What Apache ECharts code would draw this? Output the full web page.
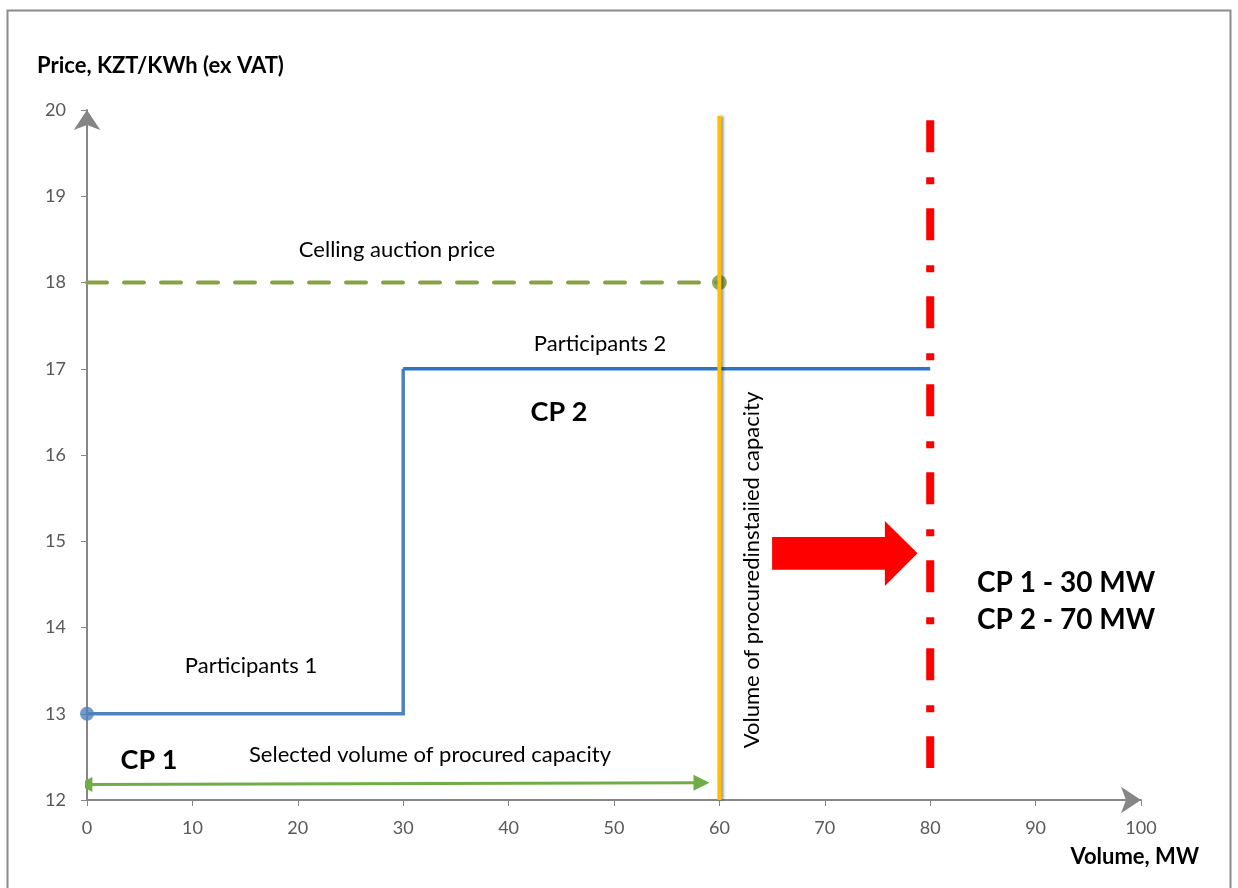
<!DOCTYPE html>
<html>
<head>
<meta charset="utf-8">
<script src="https://cdn.jsdelivr.net/npm/echarts@6/dist/echarts.min.js"></script>
<style>
html,body{margin:0;padding:0;background:#fff;}
#chart{width:1238px;height:888px;}
</style>
</head>
<body>
<div id="chart"></div>
<script>
// ---- data ----
var xTicks = [0, 10, 20, 30, 40, 50, 60, 70, 80, 90, 100];
var yTicks = [12, 13, 14, 15, 16, 17, 18, 19, 20];
var participants1 = [[0, 13], [30, 13], [30, 17]];
var participants2 = [[30, 17], [80, 17]];
var startDot = [[0, 13]];
var ceilingLine = [[0, 18], [60, 18]];
var ceilingDot = [[60, 18]];
var procuredLine = [[60, 19.93], [60, 12]];
var installedLine = [[80, 19.88], [80, 12.37]];
var selectedArrow = [[-0.2, 12.18], [58.3, 12.2]];
var blockArrow = [[65, 15.05], [75.7, 15.05], [75.7, 15.235], [78.8, 14.86], [75.7, 14.48], [75.7, 14.67], [65, 14.67]];

var FONT = 'Lato, "Open Sans", sans-serif';
var chart = echarts.init(document.getElementById('chart'), null, {renderer: 'canvas'});

function axisCommon() {
  return {
    axisLine: {show: true, lineStyle: {color: '#868686', width: 2}, symbol: ['none', 'arrow'], symbolSize: [20, 20], symbolOffset: [0, 0]},
    axisTick: {show: true, length: 6, lineStyle: {color: '#868686', width: 1}},
    splitLine: {show: false},
    axisLabel: {color: '#595959', fontSize: 18, fontFamily: FONT}
  };
}
var xa = axisCommon();
xa.type = 'value'; xa.min = xTicks[0]; xa.max = xTicks[xTicks.length - 1]; xa.interval = 10;
xa.axisLabel.margin = 19;
var ya = axisCommon();
ya.type = 'value'; ya.min = yTicks[0]; ya.max = yTicks[yTicks.length - 1]; ya.interval = 1;
ya.axisLabel.margin = 21;

var option = {
  backgroundColor: '#ffffff',
  animation: false,
  grid: {left: 87, right: 97, top: 110, bottom: 88, containLabel: false},
  xAxis: xa,
  yAxis: ya,
  series: [
    {type: 'line', data: ceilingLine, symbol: 'none', z: 2,
      lineStyle: {color: '#86A244', width: 4, type: [20, 17], cap: 'round'}},
    {type: 'scatter', data: ceilingDot, symbolSize: 15, z: 3, itemStyle: {color: '#77933C'}},
    {type: 'line', data: participants1, symbol: 'none', z: 3,
      lineStyle: {color: '#4F81BD', width: 3.5, join: 'miter'}},
    {type: 'line', data: participants2, symbol: 'none', z: 3,
      lineStyle: {color: '#2E75C4', width: 3.5}},
    {type: 'scatter', data: startDot, symbolSize: 14, z: 4, itemStyle: {color: '#4F81BD'}},
    {type: 'line', data: procuredLine, symbol: 'none', z: 6,
      lineStyle: {color: '#FFC000', width: 4, shadowColor: 'rgba(0,0,0,0.45)', shadowBlur: 3, shadowOffsetX: 2}},
    {type: 'line', data: installedLine, symbol: 'none', z: 5,
      lineStyle: {color: '#FF0000', width: 8, type: [32, 25, 7, 24], cap: 'butt'}},
    {type: 'lines', coordinateSystem: 'cartesian2d', z: 5,
      symbol: ['triangle', 'triangle'], symbolSize: [15, 16],
      lineStyle: {color: '#70AD47', width: 3, opacity: 1, curveness: 0},
      data: [{coords: selectedArrow}]},
    {type: 'custom', z: 5, data: [0],
      renderItem: function (params, api) {
        var pts = blockArrow.map(function (p) { return api.coord(p); });
        return {type: 'polygon', shape: {points: pts}, style: {fill: '#FF0000', stroke: 'none'}};
      }}
  ],
  graphic: [
    {type: 'rect', left: 5, top: 8, shape: {width: 1223, height: 900}, style: {fill: 'none', stroke: '#8C8C8C', lineWidth: 2}, z: 100},
    {type: 'text', x: 37, y: 66, style: {text: 'Price, KZT/KWh (ex VAT)', font: 'bold 22px ' + FONT, fill: '#000', textAlign: 'left', textVerticalAlign: 'middle'}},
    {type: 'text', x: 1199, y: 857, style: {text: 'Volume, MW', font: 'bold 22px ' + FONT, fill: '#000', textAlign: 'right', textVerticalAlign: 'middle'}},
    {type: 'text', x: 397, y: 250, style: {text: 'Celling auction price', font: '22px ' + FONT, fill: '#000', textAlign: 'center', textVerticalAlign: 'middle'}},
    {type: 'text', x: 600, y: 344, style: {text: 'Participants 2', font: '22px ' + FONT, fill: '#000', textAlign: 'center', textVerticalAlign: 'middle'}},
    {type: 'text', x: 559, y: 412, style: {text: 'CP 2', font: 'bold 27px ' + FONT, fill: '#000', textAlign: 'center', textVerticalAlign: 'middle'}},
    {type: 'text', x: 251, y: 666, style: {text: 'Participants 1', font: '22px ' + FONT, fill: '#000', textAlign: 'center', textVerticalAlign: 'middle'}},
    {type: 'text', x: 149, y: 760, style: {text: 'CP 1', font: 'bold 27px ' + FONT, fill: '#000', textAlign: 'center', textVerticalAlign: 'middle'}},
    {type: 'text', x: 430, y: 755, style: {text: 'Selected volume of procured capacity', font: '22px ' + FONT, fill: '#000', textAlign: 'center', textVerticalAlign: 'middle'}},
    {type: 'text', x: 752, y: 570, rotation: Math.PI / 2, style: {text: 'Volume of procuredinstaiied capacity', font: '22px ' + FONT, fill: '#000', textAlign: 'center', textVerticalAlign: 'middle'}},
    {type: 'text', x: 977, y: 583, style: {text: 'CP 1 - 30 MW', font: 'bold 28px ' + FONT, fill: '#000', textAlign: 'left', textVerticalAlign: 'middle'}},
    {type: 'text', x: 977, y: 620, style: {text: 'CP 2 - 70 MW', font: 'bold 28px ' + FONT, fill: '#000', textAlign: 'left', textVerticalAlign: 'middle'}}
  ]
};
chart.setOption(option);
</script>
</body>
</html>
